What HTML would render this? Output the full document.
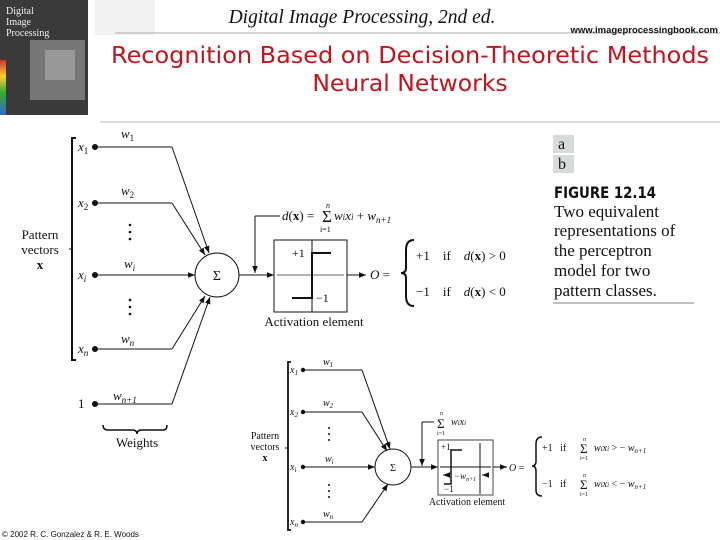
<!DOCTYPE html>
<html><head><meta charset="utf-8"><style>
html,body{margin:0;padding:0;background:#fff;width:720px;height:540px;overflow:hidden}
svg{display:block}
text{font-family:"Liberation Serif",serif;fill:#111;white-space:pre}
.it{font-style:italic}
</style></head><body>
<svg width="720" height="540" viewBox="0 0 720 540" xmlns="http://www.w3.org/2000/svg">
<defs>
<marker id="a" viewBox="0 0 10 10" refX="10" refY="5" markerWidth="7" markerHeight="7" orient="auto"><path d="M0,1 L10,5 L0,9 Z" fill="#111"/></marker>
<linearGradient id="sp" x1="0" x2="0" y1="0" y2="1"><stop offset="0" stop-color="#c33"/><stop offset=".3" stop-color="#fc3"/><stop offset=".6" stop-color="#3a3"/><stop offset="1" stop-color="#36c"/></linearGradient>
</defs>
<!-- header -->
<rect x="0" y="0" width="88" height="115" fill="#3a3a3a"/>
<rect x="30" y="40" width="55" height="60" fill="#777"/>
<rect x="45" y="50" width="30" height="30" fill="#999"/>
<rect x="0" y="60" width="6" height="55" fill="url(#sp)"/>
<text x="6" y="14" style="font-size:10px;fill:#eee">Digital</text>
<text x="6" y="25" style="font-size:10px;fill:#eee">Image</text>
<text x="6" y="36" style="font-size:10px;fill:#eee">Processing</text>
<rect x="95" y="0" width="60" height="35" fill="#f2f2f2"/>
<line x1="115" y1="33" x2="720" y2="33" stroke="#aaa"/>
<line x1="100" y1="122" x2="720" y2="122" stroke="#bbb"/>
<text x="362" y="23" text-anchor="middle" class="it" style="font-size:19.5px">Digital Image Processing, 2nd ed.</text>
<text x="718" y="33" text-anchor="end" style="font-family:'Liberation Sans',sans-serif;font-size:9.5px;font-weight:bold">www.imageprocessingbook.com</text>
<text x="410" y="63" text-anchor="middle" style="font-family:'DejaVu Sans',sans-serif;font-size:23.5px;fill:#c0141e" textLength="598" lengthAdjust="spacingAndGlyphs">Recognition Based on Decision-Theoretic Methods</text>
<text x="410" y="91" text-anchor="middle" style="font-family:'DejaVu Sans',sans-serif;font-size:23.5px;fill:#c0141e">Neural Networks</text>

<!-- top diagram -->
<g stroke="#111" fill="none" stroke-width="1">
<path d="M76,138 H72 V360 H76" stroke-width="2"/>
<line x1="69" y1="249" x2="72" y2="249"/>
<line x1="95" y1="147" x2="172" y2="147"/><line x1="172" y1="147" x2="209" y2="253" marker-end="url(#a)"/>
<line x1="95" y1="203" x2="172" y2="203"/><line x1="172" y1="203" x2="205" y2="255" marker-end="url(#a)"/>
<line x1="95" y1="275" x2="195" y2="275" marker-end="url(#a)"/>
<line x1="95" y1="349" x2="172" y2="349"/><line x1="172" y1="349" x2="205" y2="296" marker-end="url(#a)"/>
<line x1="95" y1="404" x2="172" y2="404"/><line x1="172" y1="404" x2="210" y2="297" marker-end="url(#a)"/>
<circle cx="217" cy="275" r="22"/>
<line x1="239" y1="275" x2="274" y2="275" marker-end="url(#a)"/>
<path d="M255,216 H280"/><line x1="255" y1="216" x2="255" y2="273" marker-end="url(#a)"/>
<rect x="274" y="240" width="73" height="72"/>
<line x1="277" y1="275" x2="344" y2="275" stroke="#666"/>
<line x1="312" y1="240" x2="312" y2="312"/>
<path d="M292,298 H312 V253 H331" stroke-width="2"/>
<line x1="347" y1="275" x2="366" y2="275" marker-end="url(#a)"/>
<path d="M414,240 Q406,240 406,250 V268 Q406,273 401,273 Q406,273 406,278 V296 Q406,306 414,306" stroke-width="2"/>
<path d="M103,425 Q103,430 108,430 H132 Q137,430 137,434 Q137,430 142,430 H163 Q167,430 167,425" stroke-width="1.5"/>
</g>
<g fill="#111">
<circle cx="95" cy="147" r="3"/><circle cx="95" cy="203" r="3"/><circle cx="95" cy="275" r="3"/><circle cx="95" cy="349" r="3"/><circle cx="95" cy="404" r="3"/>
<circle cx="130" cy="225" r="1.3"/><circle cx="130" cy="232" r="1.3"/><circle cx="130" cy="239" r="1.3"/>
<circle cx="130" cy="300" r="1.3"/><circle cx="130" cy="307" r="1.3"/><circle cx="130" cy="314" r="1.3"/>
</g>
<g style="font-size:13px">
<text x="78" y="151" class="it">x<tspan style="font-size:9px;font-style:normal" dy="3">1</tspan></text>
<text x="78" y="207" class="it">x<tspan style="font-size:9px;font-style:normal" dy="3">2</tspan></text>
<text x="78" y="279" class="it">x<tspan style="font-size:9px" dy="3">i</tspan></text>
<text x="78" y="353" class="it">x<tspan style="font-size:9px" dy="3">n</tspan></text>
<text x="78" y="408">1</text>
<text x="121" y="138" class="it">w<tspan style="font-size:9px;font-style:normal" dy="3">1</tspan></text>
<text x="121" y="195" class="it">w<tspan style="font-size:9px;font-style:normal" dy="3">2</tspan></text>
<text x="124" y="268" class="it">w<tspan style="font-size:9px" dy="3">i</tspan></text>
<text x="121" y="343" class="it">w<tspan style="font-size:9px" dy="3">n</tspan></text>
<text x="113" y="400" class="it">w<tspan style="font-size:9px" dy="3">n+1</tspan></text>
<text x="40" y="239" text-anchor="middle">Pattern</text>
<text x="40" y="254" text-anchor="middle">vectors</text>
<text x="40" y="269" text-anchor="middle" font-weight="bold">x</text>
<text x="137" y="447" text-anchor="middle">Weights</text>
<text x="217" y="280" text-anchor="middle" style="font-size:14px">Σ</text>
<text x="282" y="220" class="it">d<tspan font-style="normal">(</tspan><tspan font-weight="bold" font-style="normal">x</tspan><tspan font-style="normal">) = </tspan></text>
<text x="322" y="222" style="font-size:17px">Σ</text>
<text x="326" y="208" class="it" style="font-size:8px">n</text>
<text x="320" y="232" style="font-size:8px">i=1</text>
<text x="334" y="220" class="it">w<tspan style="font-size:9px">i</tspan>x<tspan style="font-size:9px">i</tspan><tspan font-style="normal"> + </tspan>w<tspan style="font-size:9px" dy="3">n+1</tspan></text>
<text x="292" y="257" style="font-size:12px">+1</text>
<text x="316" y="302" style="font-size:12px">−1</text>
<text x="314" y="326" text-anchor="middle">Activation element</text>
<text x="370" y="279" class="it">O<tspan font-style="normal"> =</tspan></text>
<text x="416" y="260">+1    if    <tspan class="it">d</tspan>(<tspan font-weight="bold">x</tspan>) &gt; 0</text>
<text x="416" y="296">−1    if    <tspan class="it">d</tspan>(<tspan font-weight="bold">x</tspan>) &lt; 0</text>
</g>

<!-- caption -->
<rect x="553" y="135" width="21" height="18" fill="#d8dcd8"/>
<rect x="553" y="155" width="21" height="18" fill="#d8dcd8"/>
<text x="558" y="149" style="font-size:16px">a</text>
<text x="558" y="169" style="font-size:16px">b</text>
<text x="554" y="198" style="font-family:'DejaVu Sans',sans-serif;font-size:16px;font-weight:bold" textLength="102" lengthAdjust="spacingAndGlyphs">FIGURE 12.14</text>
<g style="font-size:17px">
<text x="554" y="217">Two equivalent</text>
<text x="554" y="236">representations of</text>
<text x="554" y="256">the perceptron</text>
<text x="554" y="276">model for two</text>
<text x="554" y="296">pattern classes.</text>
</g>
<line x1="553" y1="303" x2="694" y2="303" stroke="#aaa" stroke-width="1.5"/>

<!-- bottom diagram -->
<g stroke="#111" fill="none" stroke-width="1">
<path d="M291,362 H288 V530 H291" stroke-width="1.8"/>
<line x1="285" y1="448" x2="288" y2="448"/>
<line x1="303" y1="370" x2="362" y2="370"/><line x1="362" y1="370" x2="390" y2="449" marker-end="url(#a)"/>
<line x1="303" y1="412" x2="362" y2="412"/><line x1="362" y1="412" x2="387" y2="451" marker-end="url(#a)"/>
<line x1="303" y1="467" x2="375" y2="467" marker-end="url(#a)"/>
<line x1="303" y1="522" x2="362" y2="522"/><line x1="362" y1="522" x2="388" y2="484" marker-end="url(#a)"/>
<circle cx="393" cy="467" r="18"/>
<line x1="411" y1="467" x2="438" y2="467" marker-end="url(#a)"/>
<path d="M422,422 H434"/><line x1="422" y1="422" x2="422" y2="466" marker-end="url(#a)"/>
<rect x="438" y="440" width="55" height="55" stroke="#444"/>
<line x1="440" y1="467" x2="491" y2="467"/>
<line x1="480" y1="443" x2="480" y2="494"/>
<path d="M444,484 H451 V450 H462" stroke-width="1.5"/>
<line x1="449" y1="475" x2="443" y2="475" marker-end="url(#a)"/><line x1="486" y1="475" x2="482" y2="475" marker-end="url(#a)"/>
<line x1="493" y1="467" x2="507" y2="467" marker-end="url(#a)"/>
<path d="M542,437 Q536,437 536,444 V461 Q536,466 532,466 Q536,466 536,471 V490 Q536,496 542,496" stroke-width="1.5"/>
</g>
<g fill="#111">
<circle cx="303" cy="370" r="2.2"/><circle cx="303" cy="412" r="2.2"/><circle cx="303" cy="467" r="2.2"/><circle cx="303" cy="522" r="2.2"/>
<circle cx="329" cy="428" r="1"/><circle cx="329" cy="434" r="1"/><circle cx="329" cy="440" r="1"/>
<circle cx="329" cy="485" r="1"/><circle cx="329" cy="491" r="1"/><circle cx="329" cy="497" r="1"/>
</g>
<g style="font-size:10px">
<text x="290" y="373" class="it">x<tspan style="font-size:7px" dy="2">1</tspan></text>
<text x="290" y="415" class="it">x<tspan style="font-size:7px" dy="2">2</tspan></text>
<text x="290" y="470" class="it">x<tspan style="font-size:7px" dy="2">i</tspan></text>
<text x="290" y="525" class="it">x<tspan style="font-size:7px" dy="2">n</tspan></text>
<text x="323" y="365" class="it">w<tspan style="font-size:7px" dy="2">1</tspan></text>
<text x="323" y="406" class="it">w<tspan style="font-size:7px" dy="2">2</tspan></text>
<text x="325" y="462" class="it">w<tspan style="font-size:7px" dy="2">i</tspan></text>
<text x="323" y="517" class="it">w<tspan style="font-size:7px" dy="2">n</tspan></text>
<text x="265" y="439" text-anchor="middle">Pattern</text>
<text x="265" y="450" text-anchor="middle">vectors</text>
<text x="265" y="461" text-anchor="middle" font-weight="bold">x</text>
<text x="393" y="471" text-anchor="middle">Σ</text>
<text x="437" y="428" style="font-size:13px">Σ</text>
<text x="440" y="415" class="it" style="font-size:6px">n</text>
<text x="437" y="435" style="font-size:6px">i=1</text>
<text x="451" y="425" class="it">w<tspan style="font-size:7px">i</tspan>x<tspan style="font-size:7px">i</tspan></text>
<text x="441" y="450" style="font-size:9px">+1</text>
<text x="444" y="492" style="font-size:9px">−1</text>
<text x="454" y="479" class="it" style="font-size:9px">−w<tspan style="font-size:6px" dy="2">n+1</tspan></text>
<text x="467" y="505" text-anchor="middle">Activation element</text>
<text x="509" y="471" class="it">O<tspan font-style="normal"> =</tspan></text>
<text x="542" y="451">+1   if</text>
<text x="580" y="453" style="font-size:13px">Σ</text>
<text x="583" y="441" class="it" style="font-size:6px">n</text>
<text x="580" y="460" style="font-size:6px">i=1</text>
<text x="594" y="451" class="it">w<tspan style="font-size:7px">i</tspan>x<tspan style="font-size:7px">i</tspan><tspan font-style="normal"> &gt; − </tspan>w<tspan style="font-size:7px" dy="2">n+1</tspan></text>
<text x="542" y="487">−1   if</text>
<text x="580" y="489" style="font-size:13px">Σ</text>
<text x="583" y="477" class="it" style="font-size:6px">n</text>
<text x="580" y="496" style="font-size:6px">i=1</text>
<text x="594" y="487" class="it">w<tspan style="font-size:7px">i</tspan>x<tspan style="font-size:7px">i</tspan><tspan font-style="normal"> &lt; − </tspan>w<tspan style="font-size:7px" dy="2">n+1</tspan></text>
</g>
<text x="2" y="537" style="font-family:'Liberation Sans',sans-serif;font-size:8px">© 2002 R. C. Gonzalez &amp; R. E. Woods</text>
</svg>
</body></html>
